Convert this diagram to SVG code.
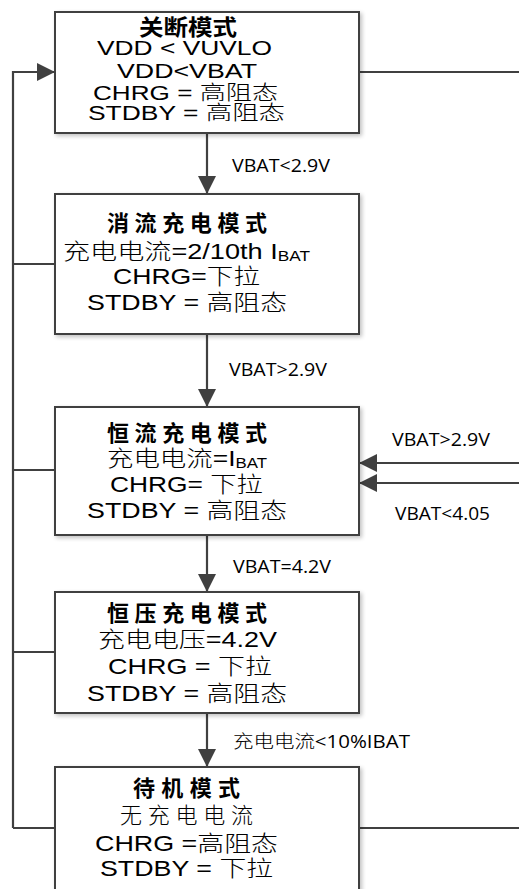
<svg xmlns="http://www.w3.org/2000/svg" width="519" height="889" viewBox="0 0 519 889">
<defs>
<style>
.box{fill:#ffffff;stroke:#404040;stroke-width:2;filter:url(#sh)}
.ln{fill:none;stroke:#404040;stroke-width:2.2}
.t{font-family:"Liberation Sans","Noto Sans CJK SC",Arial,sans-serif;font-size:22px;fill:#000}
.t1{font-family:"Liberation Sans","Noto Sans CJK SC",Arial,sans-serif;font-size:20px;fill:#000}
.h{font-family:"Noto Sans CJK SC",sans-serif;font-size:22px;font-weight:bold;fill:#000}
.c{font-family:"Noto Sans CJK SC",sans-serif;font-weight:300}
.lb{font-family:"Open Sans","Noto Sans CJK SC",sans-serif;font-size:18px;fill:#000}
.sub{font-size:14px}
</style>
<filter id="sh" x="-5%" y="-5%" width="112%" height="115%">
<feGaussianBlur in="SourceAlpha" stdDeviation="2"/>
<feOffset dx="2" dy="2" result="b"/>
<feComponentTransfer><feFuncA type="linear" slope="0.25"/></feComponentTransfer>
<feMerge><feMergeNode/><feMergeNode in="SourceGraphic"/></feMerge>
</filter>
<marker id="ar" viewBox="0 0 18 18" refX="17" refY="9" markerWidth="18" markerHeight="18" markerUnits="userSpaceOnUse" orient="auto">
<path d="M0,0 L18,9 L0,18 Z" fill="#404040"/>
</marker>
</defs>
<rect width="519" height="889" fill="#ffffff"/>

<g id="connectors">
<path class="ln" d="M13,828 V72 H54" marker-end="url(#ar)"/>
<path class="ln" d="M13,264 H55"/>
<path class="ln" d="M13,470 H55"/>
<path class="ln" d="M13,652 H55"/>
<path class="ln" d="M13,828 H55"/>
<path class="ln" d="M359,72 H519"/>
<path class="ln" d="M359,828 H519"/>
<path class="ln" d="M519,463 H360" marker-end="url(#ar)"/>
<path class="ln" d="M519,483 H360" marker-end="url(#ar)"/>
<path class="ln" d="M207,133 V193" marker-end="url(#ar)"/>
<path class="ln" d="M207,334 V406" marker-end="url(#ar)"/>
<path class="ln" d="M207,535 V591" marker-end="url(#ar)"/>
<path class="ln" d="M207,713 V766" marker-end="url(#ar)"/>
<text class="lb" x="232" y="172" textLength="98" lengthAdjust="spacingAndGlyphs">VBAT&lt;2.9V</text>
<text class="lb" x="229" y="376" textLength="98" lengthAdjust="spacingAndGlyphs">VBAT&gt;2.9V</text>
<text class="lb" x="392" y="446" textLength="98" lengthAdjust="spacingAndGlyphs">VBAT&gt;2.9V</text>
<text class="lb" x="395" y="520" textLength="95" lengthAdjust="spacingAndGlyphs">VBAT&lt;4.05</text>
<text class="lb" x="233" y="573" textLength="98" lengthAdjust="spacingAndGlyphs">VBAT=4.2V</text>
<text class="lb" x="233" y="748" textLength="177" lengthAdjust="spacingAndGlyphs"><tspan class="c">充电电流</tspan>&lt;10%IBAT</text>
</g>

<g id="shutdown">
<rect class="box" x="55" y="12" width="304" height="121"/>
<text class="h" x="139" y="35" textLength="98" lengthAdjust="spacingAndGlyphs">关断模式</text>
<text class="t1" x="97" y="55" textLength="175" lengthAdjust="spacingAndGlyphs">VDD &lt; VUVLO</text>
<text class="t1" x="117" y="78" textLength="140" lengthAdjust="spacingAndGlyphs">VDD&lt;VBAT</text>
<text class="t1" x="93" y="100" textLength="185" lengthAdjust="spacingAndGlyphs">CHRG = <tspan class="c">高阻态</tspan></text>
<text class="t1" x="88" y="120" textLength="197" lengthAdjust="spacingAndGlyphs">STDBY = <tspan class="c">高阻态</tspan></text>
</g>

<g id="trickle">
<rect class="box" x="55" y="194" width="304" height="140"/>
<text class="h" x="107" y="231" textLength="160" lengthAdjust="spacing">消流充电模式</text>
<text class="t" x="63" y="259" textLength="247" lengthAdjust="spacingAndGlyphs"><tspan class="c">充电电流</tspan>=2/10th I<tspan class="sub" dy="2">BAT</tspan></text>
<text class="t" x="113" y="284" textLength="147" lengthAdjust="spacingAndGlyphs">CHRG=<tspan class="c">下拉</tspan></text>
<text class="t" x="87" y="310" textLength="200" lengthAdjust="spacingAndGlyphs">STDBY = <tspan class="c">高阻态</tspan></text>
</g>

<g id="cc">
<rect class="box" x="55" y="407" width="304" height="128"/>
<text class="h" x="107" y="441" textLength="160" lengthAdjust="spacing">恒流充电模式</text>
<text class="t" x="107" y="466" textLength="160" lengthAdjust="spacingAndGlyphs"><tspan class="c">充电电流</tspan>=I<tspan class="sub" dy="2">BAT</tspan></text>
<text class="t" x="110" y="492" textLength="153" lengthAdjust="spacingAndGlyphs">CHRG= <tspan class="c">下拉</tspan></text>
<text class="t" x="87" y="518" textLength="200" lengthAdjust="spacingAndGlyphs">STDBY = <tspan class="c">高阻态</tspan></text>
</g>

<g id="cv">
<rect class="box" x="55" y="592" width="304" height="121"/>
<text class="h" x="107" y="621" textLength="160" lengthAdjust="spacing">恒压充电模式</text>
<text class="t" x="98" y="647" textLength="179" lengthAdjust="spacingAndGlyphs"><tspan class="c">充电电压</tspan>=4.2V</text>
<text class="t" x="108" y="674" textLength="164" lengthAdjust="spacingAndGlyphs">CHRG = <tspan class="c">下拉</tspan></text>
<text class="t" x="87" y="701" textLength="200" lengthAdjust="spacingAndGlyphs">STDBY = <tspan class="c">高阻态</tspan></text>
</g>

<g id="standby">
<rect class="box" x="55" y="767" width="304" height="140"/>
<text class="h" x="133" y="796" textLength="107" lengthAdjust="spacing">待机模式</text>
<text class="t" x="120" y="823" textLength="133" lengthAdjust="spacing"><tspan class="c">无充电电流</tspan></text>
<text class="t" x="95" y="851" textLength="183" lengthAdjust="spacingAndGlyphs">CHRG =<tspan class="c">高阻态</tspan></text>
<text class="t" x="100" y="876" textLength="173" lengthAdjust="spacingAndGlyphs">STDBY = <tspan class="c">下拉</tspan></text>
</g>
</svg>
